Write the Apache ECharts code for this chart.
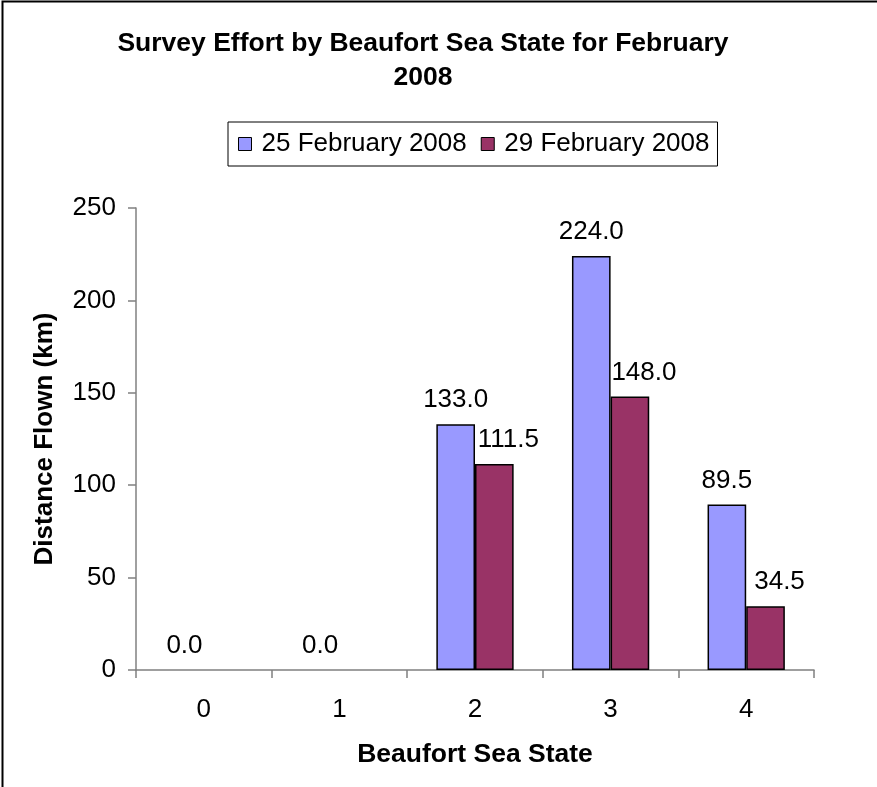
<!DOCTYPE html>
<html>
<head>
<meta charset="utf-8">
<script src="https://cdn.jsdelivr.net/npm/echarts@6/dist/echarts.min.js"></script>
<style>
  html, body { margin: 0; padding: 0; background: #ffffff; }
  #chart { width: 877px; height: 787px; }
</style>
</head>
<body>
<div id="chart"></div>
<script>
// sea states on the x axis
var seaStates = ['0', '1', '2', '3', '4'];
// distance flown (km) per survey day
var feb25 = [0, 0, 133.0, 224.0, 89.5];
var feb29 = ['-', '-', 111.5, 148.0, 34.5];
var seriesNames = ['25 February 2008', '29 February 2008'];
var barColors = ['#9999ff', '#993366'];

var chart = echarts.init(document.getElementById('chart'));
var font = '"Liberation Sans", Arial, sans-serif';

function labelFmt(p) {
  return Number(p.value).toFixed(1);
}

// zero-height bars get no outline so nothing is drawn on the axis
function barData(arr) {
  return arr.map(function (v) {
    if (v === 0) return { value: v, itemStyle: { borderWidth: 0 } };
    return v;
  });
}

function barSeries(idx, values, labelShift) {
  return {
    name: seriesNames[idx],
    type: 'bar',
    data: barData(values),
    barGap: '0%',
    barCategoryGap: '43%',
    itemStyle: { color: barColors[idx], borderColor: '#000', borderWidth: 1.5 },
    label: {
      show: true, position: 'top', distance: 11, offset: [labelShift, 0],
      fontFamily: font, fontSize: 26, color: '#000', formatter: labelFmt
    }
  };
}

var option = {
  animation: false,
  textStyle: { fontFamily: font },
  title: {
    text: 'Survey Effort by Beaufort Sea State for February\n2008',
    left: 418,
    top: 22,
    textAlign: 'center',
    textStyle: { fontFamily: font, fontSize: 26.5, fontWeight: 'bold', color: '#000', lineHeight: 34 }
  },
  legend: {
    left: 228,
    top: 122,
    itemWidth: 13,
    itemHeight: 13,
    itemGap: 14,
    padding: [9, 8, 9, 10],
    borderColor: '#000',
    borderWidth: 1,
    icon: 'rect',
    itemStyle: { borderColor: '#000', borderWidth: 1 },
    textStyle: { fontFamily: font, fontSize: 26, color: '#000', padding: [0, 0, 0, 5] },
    data: seriesNames
  },
  grid: { left: 136, right: 63, top: 208, bottom: 117 },
  xAxis: {
    type: 'category',
    data: seaStates,
    name: 'Beaufort Sea State',
    nameLocation: 'middle',
    nameGap: 71,
    nameTextStyle: { fontFamily: font, fontSize: 26.5, fontWeight: 'bold', color: '#000' },
    axisLine: { lineStyle: { color: '#808080', width: 1.5 } },
    axisTick: { show: true, length: 8, alignWithLabel: false, lineStyle: { color: '#808080', width: 1.5 } },
    axisLabel: { fontFamily: font, fontSize: 26, color: '#000', margin: 27 }
  },
  yAxis: {
    type: 'value',
    min: 0,
    max: 250,
    interval: 50,
    name: 'Distance Flown (km)',
    nameLocation: 'middle',
    nameGap: 78,
    nameTextStyle: { fontFamily: font, fontSize: 26, fontWeight: 'bold', color: '#000' },
    splitLine: { show: false },
    axisLine: { show: true, lineStyle: { color: '#808080', width: 1.5 } },
    axisTick: { show: true, length: 8, lineStyle: { color: '#808080', width: 1.5 } },
    axisLabel: { fontFamily: font, fontSize: 26, color: '#000', margin: 20 }
  },
  series: [
    barSeries(0, feb25, 0),
    barSeries(1, feb29, 14)
  ],
  graphic: [
    {
      type: 'rect',
      silent: true,
      shape: { x: 2.5, y: 1.5, width: 900, height: 900 },
      style: { fill: 'none', stroke: '#000', lineWidth: 2 }
    }
  ]
};

chart.setOption(option);
window.addEventListener('resize', function () {
  chart.resize();
});
</script>
</body>
</html>
